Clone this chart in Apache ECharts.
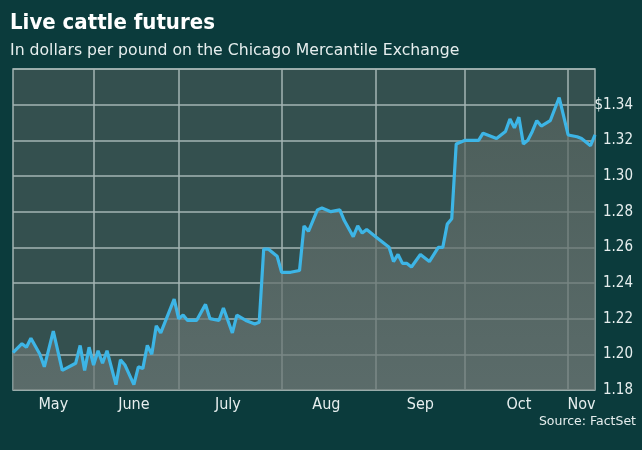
<!DOCTYPE html>
<html>
  <head>
    <meta charset="utf-8" />
    <title>Live cattle futures</title>
    <script src="https://cdn.jsdelivr.net/npm/echarts@6/dist/echarts.min.js"></script>
  </head>
  <body style="margin:0;background:#0b3b3c;">
    <div id="main" style="width:642px;height:450px;"></div>
    <script type="text/javascript">
      // trading day index (0 = first day shown in May) and settle price
      var tradingDays = [0, 2, 3, 4, 6, 7, 9, 11, 14, 15, 16, 17, 18, 19, 20, 21, 23, 24, 25, 27,
        28, 29, 30, 31, 32, 33, 36, 37, 38, 39, 41, 43, 44, 46, 47, 48, 49, 50, 52, 54,
        55, 56, 57, 59, 60, 62, 64, 65, 66, 68, 69, 71, 73, 74, 76, 77, 78, 79, 81, 82,
        84, 85, 86, 87, 88, 89, 91, 93, 95, 96, 97, 98, 99, 101, 102, 104, 105, 106, 108, 110,
        111, 112, 113, 114, 115, 116, 117, 118, 120, 122, 124, 126, 127, 129, 130];
      var prices = [1.201, 1.206, 1.204, 1.209, 1.200, 1.193, 1.213, 1.191, 1.195, 1.205, 1.191, 1.204, 1.194, 1.202, 1.195, 1.202, 1.183, 1.197, 1.194, 1.183,
        1.193, 1.192, 1.205, 1.200, 1.216, 1.212, 1.231, 1.220, 1.222, 1.219, 1.219, 1.228, 1.220, 1.219, 1.226, 1.219, 1.212, 1.222, 1.219, 1.217,
        1.218, 1.259, 1.259, 1.255, 1.246, 1.246, 1.247, 1.272, 1.269, 1.281, 1.282, 1.280, 1.281, 1.275, 1.266, 1.272, 1.268, 1.270, 1.266, 1.264,
        1.260, 1.252, 1.256, 1.251, 1.251, 1.249, 1.256, 1.252, 1.260, 1.260, 1.273, 1.276, 1.318, 1.320, 1.320, 1.320, 1.324, 1.323, 1.321, 1.325,
        1.332, 1.327, 1.333, 1.318, 1.320, 1.325, 1.331, 1.328, 1.331, 1.344, 1.323, 1.322, 1.321, 1.317, 1.323];

      var dayCount = 131;
      var monthStarts = [18, 37, 60, 81, 101, 124];
      var monthLabelDays = [9, 27, 48, 70, 91, 113, 127];
      var monthNames = ['May', 'June', 'July', 'Aug', 'Sep', 'Oct', 'Nov'];
      var priceMin = 1.18, priceMax = 1.36, priceStep = 0.02;

      var categories = [];
      for (var i = 0; i < dayCount; i++) categories.push(String(i));

      var gridColor = '#a3b4b3';
      var narrow = "'Liberation Sans Narrow', 'DejaVu Sans Condensed', 'Liberation Sans', sans-serif";

      var myChart = echarts.init(document.getElementById('main'));

      var option = {
        backgroundColor: '#0b3b3c',
        title: [
          {
            text: 'Live cattle futures',
            left: 10,
            top: 12,
            padding: 0,
            textStyle: { color: '#ffffff', fontFamily: narrow, fontWeight: 'bold', fontSize: 22 }
          },
          {
            text: 'In dollars per pound on the Chicago Mercantile Exchange',
            left: 10,
            top: 43,
            padding: 0,
            textStyle: { color: '#e6eeee', fontFamily: 'DejaVu Sans', fontSize: 15.7, fontWeight: 'normal' }
          },
          {
            text: 'Source: FactSet',
            right: 6,
            top: 415,
            padding: 0,
            textStyle: { color: '#e6eeee', fontFamily: 'DejaVu Sans', fontSize: 12.5, fontWeight: 'normal' }
          }
        ],
        grid: {
          left: 13,
          right: 47,
          top: 69,
          bottom: 60,
          show: true,
          backgroundColor: '#34504f',
          borderColor: gridColor,
          borderWidth: 1.5
        },
        xAxis: {
          type: 'category',
          boundaryGap: false,
          data: categories,
          axisLine: { show: false },
          axisTick: { show: false },
          axisLabel: {
            interval: function (idx) { return monthLabelDays.indexOf(idx) >= 0; },
            formatter: function (v) {
              var k = monthLabelDays.indexOf(Number(v));
              return k >= 0 ? monthNames[k] : '';
            },
            color: '#e6eeee',
            fontFamily: narrow,
            fontSize: 16,
            margin: 7
          },
          splitLine: {
            show: true,
            interval: function (idx) { return monthStarts.indexOf(idx) >= 0; },
            lineStyle: { color: gridColor, width: 1.5 }
          }
        },
        yAxis: {
          type: 'value',
          position: 'right',
          min: priceMin,
          max: priceMax,
          interval: priceStep,
          axisLine: { show: false },
          axisTick: { show: false },
          axisLabel: {
            align: 'right',
            margin: 38,
            color: '#e6eeee',
            fontFamily: narrow,
            fontSize: 15,
            formatter: function (v) {
              if (Math.abs(v - priceMax) < 1e-6) return '';
              var s = v.toFixed(2);
              return Math.abs(v - 1.34) < 1e-6 ? '$' + s : s;
            }
          },
          splitLine: { lineStyle: { color: gridColor, width: 1.5 } }
        },
        series: [
          {
            type: 'line',
            data: tradingDays.map(function (d, i) { return [d, prices[i]]; }),
            showSymbol: false,
            lineStyle: { color: '#3db5e6', width: 3.2 },
            areaStyle: {
              origin: 'start',
              color: new echarts.graphic.LinearGradient(0, 0, 0, 1, [
                { offset: 0, color: '#56645f' },
                { offset: 1, color: '#6b7775' }
              ])
            },
            z: 3
          }
        ]
      };

      myChart.setOption(option);
    </script>
  </body>
</html>
